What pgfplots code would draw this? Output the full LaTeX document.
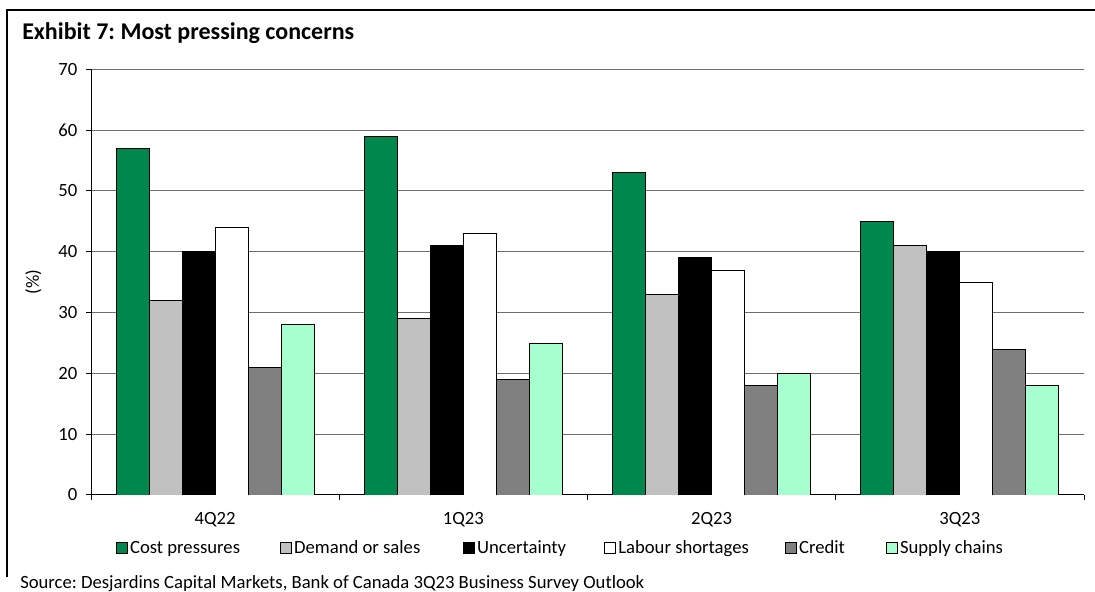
\documentclass[border=0pt]{standalone}
\usepackage{pgfplots}
\pgfplotsset{compat=1.18}
\usepackage{fontspec}
\setmainfont{Carlito}
\frenchspacing
\definecolor{cgreen}{RGB}{0,135,78}
\definecolor{lgreen}{RGB}{166,255,206}
\definecolor{mgray}{RGB}{192,192,192}
\definecolor{dgray}{RGB}{128,128,128}
\definecolor{gridc}{RGB}{110,110,110}
\begin{document}
\begin{tikzpicture}
\useasboundingbox (0,0) rectangle (821.25pt,444pt);
\fill[white] (0,0) rectangle (821.25pt,444pt);
\draw[line width=1.5pt] (5.25pt,11.25pt) -- (5.25pt,436.5pt) -- (825pt,436.5pt);
\node[anchor=base west, font=\fontsize{18}{20}\selectfont\bfseries, inner sep=0] at (16.5pt,414pt) {Exhibit 7: Most pressing concerns};
\node[anchor=base west, font=\fontsize{14}{16}\selectfont, inner sep=0] at (15pt,2.5pt) {Source: Desjardins Capital Markets, Bank of Canada 3Q23 Business Survey Outlook};
\begin{axis}[
  at={(68.25pt,72.75pt)}, anchor=south west,
  scale only axis, width=744.75pt, height=319.2pt,
  xmin=-0.5, xmax=3.5, ymin=0, ymax=70,
  axis x line*=bottom, axis y line*=left,
  axis line style={-, black, line width=0.75pt},
  ytick={0,10,...,70},
  ymajorgrids, grid style={gridc, line width=0.75pt},
  xtick={-0.5,0.5,1.5,2.5,3.5},
  x tick label as interval,
  xticklabels={4Q22,1Q23,2Q23,3Q23},
  tick align=outside,
  major tick length=3.75pt,
  tick style={black, line width=0.75pt},
  /pgf/number format/assume math mode=true,
  ticklabel style={font=\fontsize{14}{16}\selectfont},
  yticklabel style={xshift=-3pt},
  xticklabel style={yshift=-6pt},
  ylabel={(\%)},
  ylabel style={font=\fontsize{14}{16}\selectfont, at={(axis description cs:-0.058,0.5)}, anchor=center},
  ybar=0pt, bar width=24.75pt,
  legend columns=6,
  legend image code/.code={\draw[#1, line width=0.6pt] (0pt,-4.1pt) rectangle (8.25pt,4.1pt);},
  legend style={draw=none, fill=none, inner sep=0pt, at={(axis description cs:0.0245,-0.1247)}, anchor=west,
    font=\fontsize{14}{16}\selectfont,
    /tikz/column 2/.style={column sep=27.75pt},
    /tikz/column 4/.style={column sep=29.75pt},
    /tikz/column 6/.style={column sep=26.25pt},
    /tikz/column 8/.style={column sep=24.75pt},
    /tikz/column 10/.style={column sep=28.5pt}},
]
\addplot[fill=cgreen, draw=black, line width=0.6pt] coordinates {(0,57) (1,59) (2,53) (3,45)};
\addplot[fill=mgray, draw=black, line width=0.6pt] coordinates {(0,32) (1,29) (2,33) (3,41)};
\addplot[fill=black, draw=black, line width=0.6pt] coordinates {(0,40) (1,41) (2,39) (3,40)};
\addplot[fill=white, draw=black, line width=0.6pt] coordinates {(0,44) (1,43) (2,37) (3,35)};
\addplot[fill=dgray, draw=black, line width=0.6pt] coordinates {(0,21) (1,19) (2,18) (3,24)};
\addplot[fill=lgreen, draw=black, line width=0.6pt] coordinates {(0,28) (1,25) (2,20) (3,18)};
\legend{Cost pressures, Demand or sales, Uncertainty, Labour shortages, Credit, Supply chains}
\end{axis}
\end{tikzpicture}
\end{document}
